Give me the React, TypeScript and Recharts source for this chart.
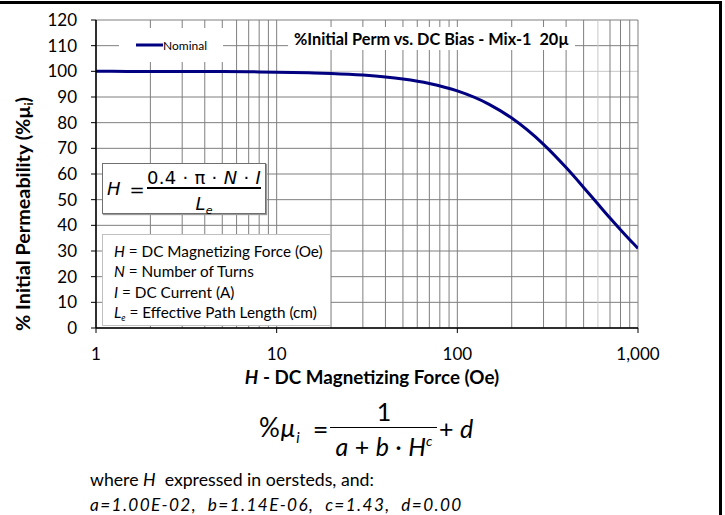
import React from 'react';
import { LineChart, Line, XAxis, YAxis, CartesianGrid, Legend } from 'recharts';

// H in oersteds, % initial permeability
const hValues = [1, 1.5, 2, 3, 5, 7, 10, 15, 20, 30, 40, 50, 70, 100, 150, 200, 300, 400, 500, 600, 700, 800, 900, 1000];
const nominal = [99.99, 99.98, 99.97, 99.95, 99.89, 99.82, 99.69, 99.45, 99.18, 98.55, 97.82, 97.02, 95.28, 92.37, 87.15, 81.79, 71.56, 62.5, 54.78, 48.28, 42.82, 38.24, 34.35, 31.03];

const xGridTicks = [1, 2, 3, 4, 5, 6, 7, 8, 9, 10, 20, 30, 40, 50, 60, 70, 80, 90, 100, 200, 300, 400, 500, 600, 700, 800, 900, 1000];
const xLabelTicks = [1, 10, 100, 1000];
const yTicks = [0, 10, 20, 30, 40, 50, 60, 70, 80, 90, 100, 110, 120];

const seriesName = 'Nominal';
const chartTitle = '%Initial Perm vs. DC Bias - Mix-1  20µ';
const definitions = [
  { sym: 'H', sub: '', text: ' = DC Magnetizing Force (Oe)' },
  { sym: 'N', sub: '', text: ' = Number of Turns' },
  { sym: 'I', sub: '', text: ' = DC Current (A)' },
  { sym: 'L', sub: 'e', text: ' = Effective Path Length (cm)' },
];
const coefficients = 'a=1.00E-02,  b=1.14E-06,  c=1.43,  d=0.00';

const data = hValues.map((h, i) => ({ h, nominal: nominal[i] }));

const FONT = 'Lato, "Liberation Sans", sans-serif';
const MATH = '"DejaVu Sans", sans-serif';
const NAVY = '#000080';
const GRID = '#7f7f7f';

function At({ x, y, anchor = 'middle', style, children }: any) {
  const tx = anchor === 'start' ? '0' : anchor === 'end' ? '-100%' : '-50%';
  return (
    <div
      style={{
        position: 'absolute',
        left: x,
        top: y,
        transform: `translate(${tx}, -50%)`,
        whiteSpace: 'pre',
        lineHeight: 1,
        ...style,
      }}
    >
      {children}
    </div>
  );
}

function XTick({ x, y, payload }: any) {
  if (!xLabelTicks.includes(payload.value)) return <g />;
  return (
    <g>
      <line x1={x} x2={x} y1={y - 20} y2={y - 15} stroke="#000" strokeWidth={1} />
      <text x={x} y={y} dy="0.71em" textAnchor="middle" fontSize={17} fill="#000" fontFamily={FONT}>
        {payload.value.toLocaleString('en-US')}
      </text>
    </g>
  );
}

const renderLegend = (props: any) => (
  <div
    style={{
      width: 104,
      height: 34,
      background: '#fff',
      display: 'flex',
      alignItems: 'center',
      fontFamily: FONT,
      fontSize: 12,
      color: '#000',
    }}
  >
    <svg width={27} height={4} style={{ marginLeft: 17 }}>
      <line x1={0} y1={2} x2={27} y2={2} stroke={NAVY} strokeWidth={3} />
    </svg>
    <span>{props.payload?.[0]?.value ?? seriesName}</span>
  </div>
);

export default function App() {
  return (
    <div
      style={{
        position: 'absolute',
        left: 0,
        top: 0,
        width: 725,
        height: 515,
        background: '#fff',
        fontFamily: FONT,
        color: '#000',
        overflow: 'hidden',
      }}
    >
      <LineChart width={725} height={515} data={data} margin={{ top: 20, right: 87, left: 36, bottom: 157 }}>
        <CartesianGrid
          stroke={GRID}
          horizontal={(p: any) => (
            <line key={p.key} x1={p.x1} y1={p.y1} x2={p.x2} y2={p.y2} stroke={yTicks[p.index] === 100 ? '#c8c8c8' : GRID} strokeWidth={1} />
          )}
          vertical={(p: any) => (
            <line key={p.key} x1={p.x1} y1={p.y1} x2={p.x2} y2={p.y2} stroke={xGridTicks[p.index] === 600 ? '#c8c8c8' : GRID} strokeWidth={1} />
          )}
        />
        <XAxis
          dataKey="h"
          type="number"
          scale="log"
          domain={[1, 1000]}
          allowDataOverflow
          ticks={xGridTicks}
          interval={0}
          tick={<XTick />}
          tickLine={false}
          tickSize={5}
          tickMargin={15}
          height={30}
          axisLine={{ stroke: '#000', strokeWidth: 1.5 }}
        />
        <YAxis
          type="number"
          domain={[0, 120]}
          ticks={yTicks}
          interval={0}
          width={60}
          tickSize={5}
          tickMargin={14}
          tick={{ fill: '#000', fontSize: 17, fontFamily: FONT }}
          tickLine={{ stroke: '#000' }}
          axisLine={{ stroke: '#000', strokeWidth: 1.5 }}
        />
        <Legend
          layout="horizontal"
          verticalAlign="middle"
          content={renderLegend}
          wrapperStyle={{ position: 'absolute', left: 119, top: 28, width: 104, height: 34 }}
        />
        <Line
          type="monotone"
          dataKey="nominal"
          name={seriesName}
          stroke={NAVY}
          strokeWidth={3}
          dot={false}
          isAnimationActive={false}
        />
      </LineChart>

      {/* figure frame */}
      <div style={{ position: 'absolute', left: 0, top: 1, width: 722, height: 3, background: '#000' }} />
      <div style={{ position: 'absolute', left: 719, top: 1, width: 3, height: 514, background: '#000' }} />

      {/* title */}
      <div
        style={{
          position: 'absolute',
          left: 288,
          top: 27,
          width: 287,
          height: 23,
          background: '#fff',
          display: 'flex',
          alignItems: 'center',
          justifyContent: 'center',
          fontWeight: 700,
          fontSize: 16.3,
          whiteSpace: 'pre',
        }}
      >
        {chartTitle}
      </div>

      {/* H formula box */}
      <div
        style={{
          position: 'absolute',
          left: 102,
          top: 163,
          width: 162,
          height: 49,
          border: '1.5px solid #6f6f6f',
          boxShadow: '1px 1px 1px #999',
          background: '#fff',
          fontFamily: MATH,
          fontSize: 18,
        }}
      >
        <At x={4} y={25} anchor="start"><i>H</i></At>
        <At x={34} y={26}>=</At>
        <At x={101} y={14} style={{ letterSpacing: 0.3 }}>
          0.4 · π · <i>N</i> · <i>I</i>
        </At>
        <div style={{ position: 'absolute', left: 44, top: 23, width: 114, height: 1.5, background: '#000' }} />
        <At x={101} y={40}>
          <i>L</i>
          <i style={{ fontSize: 11, position: 'relative', top: 4 }}>e</i>
        </At>
      </div>

      {/* definitions box */}
      <div
        style={{
          position: 'absolute',
          left: 102,
          top: 234,
          width: 229,
          height: 92,
          border: '1px solid #c0c0c0',
          background: '#fff',
          fontSize: 15.3,
          lineHeight: '20.3px',
          paddingTop: 6,
          paddingLeft: 11,
          boxSizing: 'border-box',
          whiteSpace: 'pre',
        }}
      >
        {definitions.map((d) => (
          <div key={d.sym}>
            <i>{d.sym}</i>
            {d.sub && <i style={{ fontSize: 9, position: 'relative', top: 3 }}>{d.sub}</i>}
            {d.text}
          </div>
        ))}
      </div>

      {/* axis titles */}
      <At x={372} y={377} style={{ fontWeight: 700, fontSize: 18.8 }}>
        <i>H</i> - DC Magnetizing Force (Oe)
      </At>
      <div
        style={{
          position: 'absolute',
          left: 23,
          top: 214,
          transform: 'translate(-50%, -50%) rotate(-90deg)',
          whiteSpace: 'pre',
          lineHeight: 1,
          fontWeight: 700,
          fontSize: 19.8,
        }}
      >
        % Initial Permeability (%µ<span style={{ fontSize: 12, position: 'relative', top: 3 }}>i</span>)
      </div>

      {/* fit equation */}
      <At x={259} y={427} anchor="start" style={{ fontSize: 26, letterSpacing: 1 }}>
        %<i>μ</i>
        <i style={{ fontSize: 15, position: 'relative', top: 6 }}>i</i>
      </At>
      <At x={320.5} y={428} style={{ fontSize: 27 }}>=</At>
      <At x={384} y={411} style={{ fontSize: 25 }}>1</At>
      <div style={{ position: 'absolute', left: 330, top: 426.5, width: 107, height: 1.3, background: '#000' }} />
      <At x={384} y={446} style={{ fontSize: 25 }}>
        <i>a</i> + <i>b</i> · <i>H</i>
        <i style={{ fontSize: 14, position: 'relative', top: -10 }}>c</i>
      </At>
      <At x={439} y={428} anchor="start" style={{ fontSize: 25 }}>
        + <i>d</i>
      </At>

      <At x={90} y={480} anchor="start" style={{ fontSize: 17.7 }}>
        where <i>H</i>  expressed in oersteds, and:
      </At>
      <At x={90} y={505} anchor="start" style={{ fontSize: 17.2, fontStyle: 'italic', letterSpacing: 1.4 }}>
        {coefficients}
      </At>
    </div>
  );
}
